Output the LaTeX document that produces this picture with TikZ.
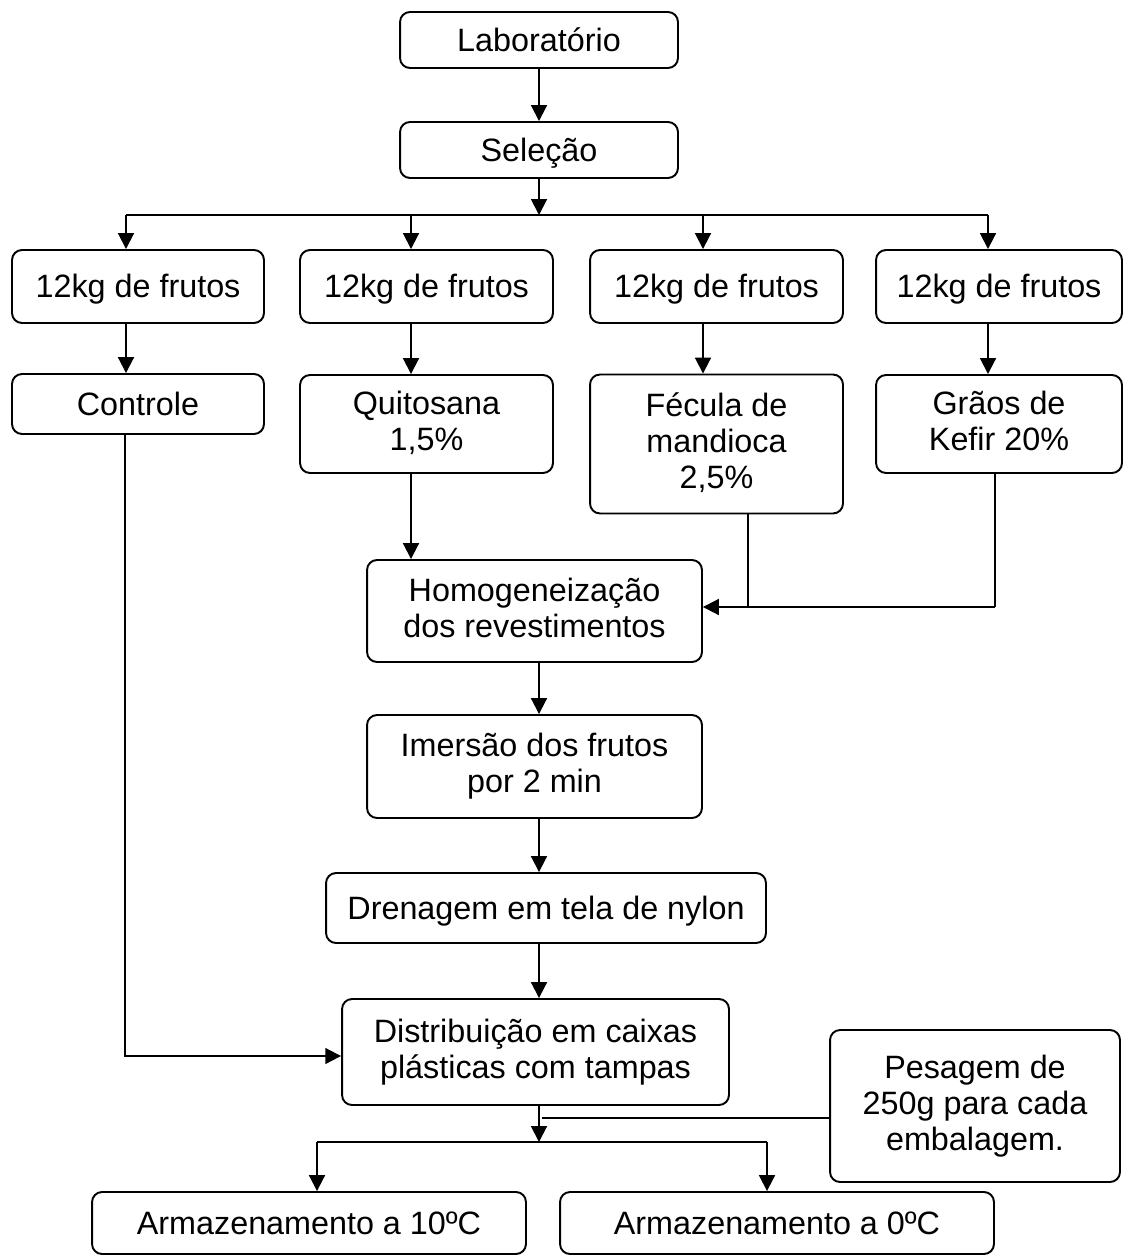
\documentclass[tikz,border=0pt]{standalone}
\usepackage{fontspec}
\setmainfont{Liberation Sans}
\usetikzlibrary{arrows.meta}

\begin{document}
\begin{tikzpicture}[x=0.02cm, y=-0.02cm,
    box/.style={draw, rounded corners=0.2cm, line width=1.1pt, align=center,
        inner sep=0pt, font=\fontsize{18.4}{20.4}\selectfont,
        execute at begin node={\rule{0pt}{16.6pt}},
        execute at end node={\rule[-3.9pt]{0pt}{3.9pt}}},
    arr/.style={-{Triangle[width=9pt,length=9pt]}, line width=1.1pt},
    ln/.style={line width=1.1pt}]
    \useasboundingbox (0,0) rectangle (1125,1256);

    \node[box, minimum width=5.56cm, minimum height=1.12cm] (lab) at (539, 40) {Laborat\'orio};
    \node[box, minimum width=5.56cm, minimum height=1.12cm] (sel) at (539, 150) {Sele\c{c}\~ao};

    \node[box, minimum width=5.04cm, minimum height=1.46cm] (fr1) at (138, 286.5) {12kg de frutos};
    \node[box, minimum width=5.06cm, minimum height=1.46cm] (fr2) at (426.5, 286.5) {12kg de frutos};
    \node[box, minimum width=5.06cm, minimum height=1.46cm] (fr3) at (716.5, 286.5) {12kg de frutos};
    \node[box, minimum width=4.92cm, minimum height=1.46cm] (fr4) at (999, 286.5) {12kg de frutos};

    \node[box, minimum width=5.04cm, minimum height=1.2cm] (ctrl) at (138, 404) {Controle};
    \node[box, minimum width=5.06cm, minimum height=1.96cm] (quit) at (426.5, 424) {Quitosana\\1,5\%};
    \node[box, minimum width=5.06cm, minimum height=2.78cm] (fec) at (716.5, 444) {F\'ecula de\\mandioca\\2,5\%};
    \node[box, minimum width=4.92cm, minimum height=1.96cm] (grao) at (999, 424) {Gr\~aos de\\Kefir 20\%};

    \node[box, minimum width=6.7cm, minimum height=2.04cm] (homog) at (534.5, 611) {Homogeneiza\c{c}\~ao\\dos revestimentos};
    \node[box, minimum width=6.7cm, minimum height=2.06cm] (imers) at (534.5, 766.5) {Imers\~ao dos frutos\\por 2 min};
    \node[box, minimum width=8.8cm, minimum height=1.4cm] (dren) at (546, 908) {Drenagem em tela de nylon};
    \node[box, minimum width=7.74cm, minimum height=2.12cm] (dist) at (535.5, 1052) {Distribui\c{c}\~ao em caixas\\pl\'asticas com tampas};
    \node[box, minimum width=5.8cm, minimum height=3.04cm] (pes) at (975, 1106) {Pesagem de\\250g para cada\\embalagem.};

    \node[box, minimum width=8.68cm, minimum height=1.24cm] (arm10) at (309, 1223) {Armazenamento a 10ºC};
    \node[box, minimum width=8.68cm, minimum height=1.24cm] (arm0) at (777, 1223) {Armazenamento a 0ºC};

    % ramificacao de cima
    \coordinate (top) at (539, 215);
    \coordinate (t1) at (126, 215);
    \coordinate (t2) at (411, 215);
    \coordinate (t3) at (703, 215);
    \coordinate (t4) at (988, 215);

    \draw[arr] (lab) -- (sel);
    \draw[arr] (sel) -- (top);
    \draw[ln] (t1) -- (t4);
    \draw[arr] (t1) -- (t1 |- fr1.north);
    \draw[arr] (t2) -- (t2 |- fr2.north);
    \draw[arr] (t3) -- (t3 |- fr3.north);
    \draw[arr] (t4) -- (t4 |- fr4.north);
    \draw[arr] (t1 |- fr1.south) -- (t1 |- ctrl.north);
    \draw[arr] (t2 |- fr2.south) -- (t2 |- quit.north);
    \draw[arr] (t3 |- fr3.south) -- (t3 |- fec.north);
    \draw[arr] (t4 |- fr4.south) -- (t4 |- grao.north);

    % revestimentos
    \coordinate (jf) at (748, 607);
    \coordinate (jg) at (995, 607);
    \draw[arr] (t2 |- quit.south) -- (t2 |- homog.north);
    \draw[ln] (jf |- fec.south) -- (jf);
    \draw[ln] (jg |- grao.south) -- (jg);
    \draw[arr] (jg) -- (jg -| homog.east);

    \draw[arr] (homog.south -| lab) -- (imers.north -| lab);
    \draw[arr] (imers.south -| lab) -- (dren.north -| lab);
    \draw[arr] (dren.south -| lab) -- (dist.north -| lab);

    % controle
    \coordinate (cb) at (125, 1056);
    \draw[arr] (ctrl.south -| cb) -- (cb) -- (cb -| dist.west);

    % armazenamento
    \coordinate (bot) at (539, 1142);
    \coordinate (b1) at (317, 1142);
    \coordinate (b2) at (767, 1142);
    \coordinate (jp) at (542, 1118);
    \draw[arr] (dist.south -| bot) -- (bot);
    \draw[ln] (pes.west |- jp) -- (jp);
    \draw[ln] (b1) -- (b2);
    \draw[arr] (b1) -- (b1 |- arm10.north);
    \draw[arr] (b2) -- (b2 |- arm0.north);
\end{tikzpicture}
\end{document}
